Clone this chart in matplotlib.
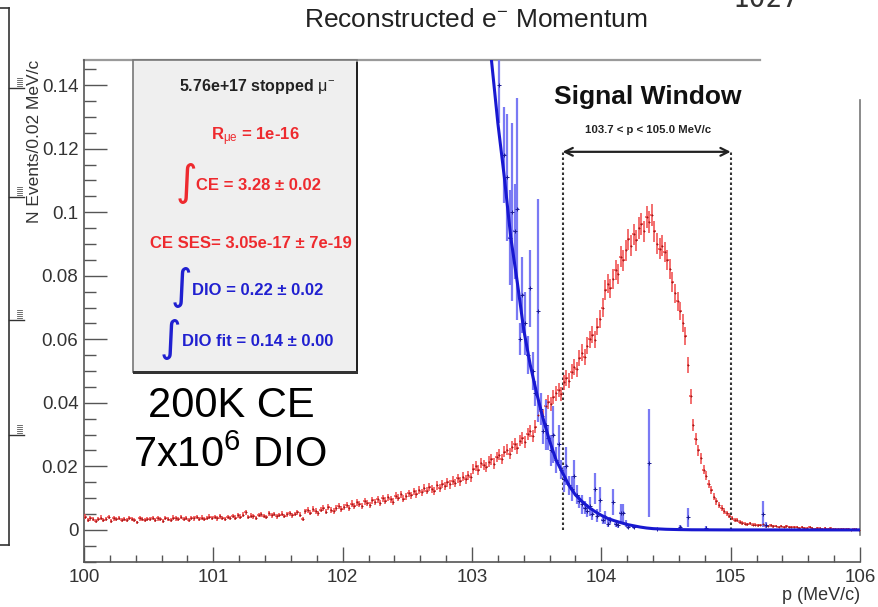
import numpy as np
import matplotlib
matplotlib.use('Agg')
import matplotlib.pyplot as plt
from matplotlib.patches import Rectangle
from matplotlib.ticker import MultipleLocator, FixedLocator

plt.rcParams['font.family'] = ['Liberation Sans', 'DejaVu Sans']
plt.rcParams['mathtext.fontset'] = 'custom'
plt.rcParams['mathtext.rm'] = 'Liberation Sans'
plt.rcParams['mathtext.it'] = 'Liberation Sans'
plt.rcParams['mathtext.bf'] = 'Liberation Sans:bold'

# ---------------- data ----------------
p_min, p_max, bin_width = 100.0, 106.0, 0.02

ce_values = [
    # 100.01 - 100.49
    0.0042, 0.0030, 0.0036, 0.0033, 0.0028, 0.0035, 0.0039, 0.0031, 0.0034, 0.0041,
    0.0029, 0.0036, 0.0033, 0.0038, 0.0030, 0.0034, 0.0032, 0.0037, 0.0035, 0.0031,
    0.0024, 0.0036, 0.0033, 0.0030, 0.0035,
    # 100.51 - 100.99
    0.0034, 0.0038, 0.0031, 0.0036, 0.0033, 0.0029, 0.0037, 0.0035, 0.0032, 0.0039,
    0.0036, 0.0034, 0.0040, 0.0033, 0.0037, 0.0031, 0.0038, 0.0036, 0.0041, 0.0035,
    0.0039, 0.0034, 0.0037, 0.0042, 0.0038,
    # 101.01 - 101.49
    0.0040, 0.0036, 0.0043, 0.0038, 0.0035, 0.0041, 0.0037, 0.0044, 0.0039, 0.0046,
    0.0042, 0.0048, 0.0055, 0.0041, 0.0045, 0.0043, 0.0038, 0.0047, 0.0049, 0.0044,
    0.0040, 0.0052, 0.0046, 0.0050, 0.0043,
    # 101.51 - 101.99
    0.0047, 0.0051, 0.0044, 0.0049, 0.0053, 0.0046, 0.0050, 0.0055, 0.0048, 0.0035,
    0.0058, 0.0062, 0.0054, 0.0066, 0.0059, 0.0052, 0.0064, 0.0069, 0.0057, 0.0071,
    0.0063, 0.0060, 0.0068, 0.0074, 0.0065,
    # 102.01 - 102.49
    0.0072, 0.0079, 0.0068, 0.0083, 0.0076, 0.0087, 0.0081, 0.0074, 0.0090, 0.0085,
    0.0079, 0.0093, 0.0088, 0.0096, 0.0084, 0.0099, 0.0092, 0.0103, 0.0097, 0.0089,
    0.0108, 0.0101, 0.0112, 0.0098, 0.0106,
    # 102.51 - 102.99
    0.0115, 0.0109, 0.0121, 0.0113, 0.0126, 0.0118, 0.0131, 0.0124, 0.0136, 0.0128,
    0.0122, 0.0140, 0.0133, 0.0145, 0.0138, 0.0150, 0.0143, 0.0155, 0.0148, 0.0162,
    0.0153, 0.0168, 0.0159, 0.0172, 0.0165,
    # 103.01 - 103.49
    0.0192, 0.0201, 0.0188, 0.0210, 0.0205, 0.0198, 0.0215, 0.0222, 0.0209, 0.0230,
    0.0237, 0.0224, 0.0246, 0.0252, 0.0240, 0.0262, 0.0270, 0.0257, 0.0281, 0.0290,
    0.0276, 0.0301, 0.0312, 0.0296, 0.0325,
    # 103.51 - 103.99
    0.0362, 0.0375, 0.0358, 0.0390, 0.0402, 0.0395, 0.0418, 0.0430, 0.0440, 0.0428,
    0.0465, 0.0478, 0.0470, 0.0498, 0.0512, 0.0505, 0.0540, 0.0558, 0.0545, 0.0580,
    0.0600, 0.0615, 0.0598, 0.0640, 0.0665,
    # 104.01 - 104.49
    0.0700, 0.0755, 0.0775, 0.0760, 0.0790, 0.0818, 0.0805, 0.0860, 0.0848, 0.0880,
    0.0915, 0.0895, 0.0930, 0.0912, 0.0950, 0.0962, 0.0940, 0.0985, 0.0970, 0.0992,
    0.0940, 0.0900, 0.0885, 0.0895, 0.0875,
    # 104.51 - 104.99
    0.0850, 0.0820, 0.0780, 0.0745, 0.0720, 0.0690, 0.0650, 0.0610, 0.0520, 0.0420,
    0.0330, 0.0285, 0.0250, 0.0225, 0.0190, 0.0170, 0.0145, 0.0125, 0.0105, 0.0090,
    0.0078, 0.0068, 0.0060, 0.0052, 0.0045,
    # 105.01 - 105.49
    0.0038, 0.0032, 0.0030, 0.0025, 0.0022, 0.0020, 0.0018, 0.0021, 0.0016, 0.0017,
    0.0014, 0.0015, 0.0018, 0.0013, 0.0012, 0.0014, 0.0011, 0.0013, 0.0010, 0.0012,
    0.0009, 0.0011, 0.0008, 0.0010, 0.0009,
    # 105.51 - 105.99
    0.0008, 0.0006, 0.0009, 0.0007, 0.0005, 0.0008, 0.0006, 0.0004, 0.0007, 0.0005,
    0.0003, 0.0006, 0.0004, 0.0005, 0.0003, 0.0004, 0.0002, 0.0004, 0.0003, 0.0002,
    0.0003, 0.0001, 0.0002, 0.0002, 0.0001,
]

dio_p = [103.21, 103.25, 103.27, 103.29, 103.31, 103.33, 103.35, 103.37, 103.39, 103.41,
         103.43, 103.45, 103.47, 103.49, 103.51, 103.53, 103.55, 103.57, 103.59, 103.61,
         103.63, 103.65, 103.67, 103.69, 103.71, 103.73, 103.75, 103.77, 103.79, 103.81,
         103.83, 103.85, 103.87, 103.89, 103.91, 103.93, 103.95, 103.97, 103.99, 104.01,
         104.03, 104.05, 104.07, 104.09, 104.11, 104.13, 104.15, 104.17, 104.19, 104.21,
         104.25, 104.37, 104.43, 104.61, 104.67, 104.81, 105.25, 105.27]
dio_values = [0.140, 0.118, 0.111, 0.092, 0.100, 0.094, 0.101, 0.060, 0.074, 0.065,
              0.055, 0.076, 0.050, 0.043, 0.069, 0.038, 0.031, 0.033, 0.029, 0.025,
              0.030, 0.022, 0.027, 0.019, 0.016, 0.020, 0.014, 0.013, 0.017, 0.011,
              0.009, 0.008, 0.007, 0.006, 0.0075, 0.005, 0.013, 0.0045, 0.0095, 0.003,
              0.004, 0.002, 0.003, 0.0088, 0.002, 0.0015, 0.0053, 0.0053, 0.0020, 0.0010,
              0.0008, 0.021, 0.0003, 0.0010, 0.004, 0.0006, 0.005, 0.0015]
dio_errors = [0.012, 0.015, 0.020, 0.015, 0.028, 0.015, 0.035, 0.005, 0.012, 0.010,
              0.006, 0.012, 0.006, 0.004, 0.035, 0.005, 0.004, 0.008, 0.004, 0.005,
              0.009, 0.004, 0.006, 0.003, 0.004, 0.006, 0.003, 0.004, 0.005, 0.003,
              0.002, 0.003, 0.002, 0.002, 0.003, 0.002, 0.005, 0.002, 0.004, 0.001,
              0.002, 0.001, 0.001, 0.004, 0.001, 0.001, 0.003, 0.003, 0.001, 0.0008,
              0.0005, 0.017, 0.0003, 0.0007, 0.003, 0.0005, 0.004, 0.001]

fit_p = [103.15, 103.20, 103.25, 103.30, 103.35, 103.40, 103.45, 103.50, 103.55, 103.60,
         103.65, 103.70, 103.75, 103.80, 103.85, 103.90, 103.95, 104.00, 104.05, 104.10,
         104.15, 104.20, 104.25, 104.30, 104.35, 104.40, 104.50, 104.60, 104.70, 105.00, 106.00]
fit_values = [0.148, 0.128, 0.111, 0.092, 0.078, 0.063, 0.052, 0.043, 0.035, 0.028,
              0.022, 0.018, 0.014, 0.011, 0.0090, 0.0072, 0.0058, 0.0046, 0.0036, 0.0029,
              0.0023, 0.0017, 0.0013, 0.0009, 0.0006, 0.0004, 0.0002, 0.0001, 0.00004, 0.0, 0.0]

window_lo, window_hi = 103.7, 105.0
window_arrow_y = 0.119

x_ticks = [100, 101, 102, 103, 104, 105, 106]
x_tick_labels = ['100', '101', '102', '103', '104', '105', '106']
y_ticks = [0, 0.02, 0.04, 0.06, 0.08, 0.10, 0.12, 0.14]
y_tick_labels = ['0', '0.02', '0.04', '0.06', '0.08', '0.1', '0.12', '0.14']

# ---------------- figure ----------------
W, H = 879, 607
fig = plt.figure(figsize=(W / 100, H / 100), dpi=100)
fig.patch.set_facecolor('white')


def ft(x, y, s, **kw):
    return fig.text(x / W, 1 - y / H, s, **kw)


ax_l, ax_r, ax_t, ax_b = 84, 860, 60, 562
ax = fig.add_axes([ax_l / W, 1 - ax_b / H, (ax_r - ax_l) / W, (ax_b - ax_t) / H])
ax.set_xlim(p_min, p_max)
ax.set_ylim(-0.0101, 0.1479)

ce = np.array(ce_values)
centers = p_min + bin_width * (np.arange(len(ce)) + 0.5)
ce_err = 0.011 * np.sqrt(ce)
ax.errorbar(centers, ce, yerr=ce_err, xerr=bin_width / 2, fmt='none',
            ecolor='#f04848', elinewidth=1.1, zorder=3)
ax.plot(centers, ce, linestyle='none', marker='+', markersize=2.0,
        color='#a01c1c', markeredgewidth=0.7, zorder=4)

ax.errorbar(dio_p, dio_values, yerr=dio_errors, xerr=bin_width / 2, fmt='none',
            ecolor='#7a7af4', elinewidth=1.6, zorder=3)
ax.plot(dio_p, dio_values, linestyle='none', marker='+', markersize=2.5,
        color='#1a1a90', markeredgewidth=0.7, zorder=4)

ax.plot(fit_p, fit_values, color='#1818d0', lw=2.2, zorder=5)

# signal window
ax.plot([window_lo, window_lo], [0, window_arrow_y], linestyle=(0, (1.2, 1.2)),
        color='#333333', lw=1.5, zorder=2)
ax.plot([window_hi, window_hi], [0, window_arrow_y], linestyle=(0, (1.2, 1.2)),
        color='#333333', lw=1.5, zorder=2)
ax.annotate('', xy=(window_lo, window_arrow_y), xytext=(window_hi, window_arrow_y),
            arrowprops=dict(arrowstyle='<->', color='#222222', lw=1.6,
                            shrinkA=0, shrinkB=0, mutation_scale=14))

# axes styling
for s in ['top', 'right']:
    ax.spines[s].set_visible(False)
for s in ['left', 'bottom']:
    ax.spines[s].set_color('#555555')
    ax.spines[s].set_linewidth(1.2)
ax.axhline(0.1479, xmin=0, xmax=(760 - ax_l) / (ax_r - ax_l), color='#9a9a9a',
           lw=1.6, clip_on=False)
ax.axvline(106, ymin=(ax_b - 535) / (ax_b - ax_t), ymax=(ax_b - 100) / (ax_b - ax_t),
           color='#777777', lw=1.2, clip_on=False)

ax.xaxis.set_major_locator(FixedLocator(x_ticks))
ax.set_xticklabels(x_tick_labels)
ax.xaxis.set_minor_locator(MultipleLocator(0.2))
ax.yaxis.set_major_locator(FixedLocator(y_ticks))
ax.set_yticklabels(y_tick_labels)
ax.yaxis.set_minor_locator(MultipleLocator(0.005))
ax.tick_params(which='both', direction='in', colors='#555555', labelcolor='#333333',
               labelsize=13.5)
ax.tick_params(axis='x', which='major', length=10.8, width=1.0, pad=5)
ax.tick_params(axis='x', which='minor', length=5.4, width=1.0)
ax.tick_params(axis='y', which='major', length=16.5, width=1.0, pad=4)
ax.tick_params(axis='y', which='minor', length=8.3, width=1.0)

# stats box
box = Rectangle((133 / W, 1 - 372 / H), (357 - 133) / W, (372 - 60) / H,
                transform=fig.transFigure, facecolor='#efefef', edgecolor='#777777',
                lw=1.2, zorder=6)
fig.patches.append(box)
shadow_r = Rectangle((356 / W, 1 - 372 / H), 2.5 / W, (372 - 62) / H,
                     transform=fig.transFigure, facecolor='#222222', edgecolor='none', zorder=6)
shadow_b = Rectangle((133 / W, 1 - 373.5 / H), (358 - 133) / W, 2.5 / H,
                     transform=fig.transFigure, facecolor='#333333', edgecolor='none', zorder=6)
fig.patches.append(shadow_r)
fig.patches.append(shadow_b)

red = '#ee2a2e'
blue = '#2020d0'
bfs = 12
ft(257, 87, r'5.76e+17 stopped $\mu^{-}$', ha='center', va='center', fontsize=11.5,
   fontweight='bold', color='#222222', zorder=7)
ft(255, 137, r'R$_{\mu e}$ = 1e-16', ha='center', va='center', fontsize=bfs,
   fontweight='bold', color=red, zorder=7)
ft(186, 183, '\u222b', ha='center', va='center', fontsize=30, family='DejaVu Sans',
   color=red, zorder=7)
ft(196, 186, 'CE = 3.28 \u00b1 0.02', ha='left', va='center', fontsize=bfs,
   fontweight='bold', color=red, zorder=7)
ft(251, 243, 'CE SES= 3.05e-17 \u00b1 7e-19', ha='center', va='center', fontsize=bfs,
   fontweight='bold', color=red, zorder=7)
ft(181, 287, '\u222b', ha='center', va='center', fontsize=30, family='DejaVu Sans',
   color=blue, zorder=7)
ft(192, 290, 'DIO = 0.22 \u00b1 0.02', ha='left', va='center', fontsize=bfs,
   fontweight='bold', color=blue, zorder=7)
ft(170, 339, '\u222b', ha='center', va='center', fontsize=30, family='DejaVu Sans',
   color=blue, zorder=7)
ft(182, 342, 'DIO fit = 0.14 \u00b1 0.00', ha='left', va='center', fontsize=bfs,
   fontweight='bold', color=blue, zorder=7)

# annotations
ft(476, 20, r'Reconstructed e$^{-}$ Momentum', ha='center', va='center', fontsize=19,
   color='#222222')
ft(648, 97, 'Signal Window', ha='center', va='center', fontsize=19, fontweight='bold',
   color='#111111')
ft(648, 130, '103.7 < p < 105.0 MeV/c', ha='center', va='center', fontsize=8.2,
   fontweight='bold', color='#222222')
ft(231, 406, '200K CE', ha='center', va='center', fontsize=30, color='black')
ft(230, 456, r'7x10$^{6}$ DIO', ha='center', va='center', fontsize=30, color='black')
ft(35, 60, 'N Events/0.02 MeV/c', ha='center', va='top', rotation=90, fontsize=12.5,
   color='#333333')
ft(860, 595, 'p (MeV/c)', ha='right', va='center', fontsize=13, color='#333333')
ft(733, 7, '1027', ha='left', va='baseline', fontsize=20, family='DejaVu Sans Mono',
   color='#333333')

# left-edge frame fragment
fig.add_artist(plt.Line2D([9 / W, 9 / W], [1 - 8 / H, 1 - 545 / H], color='#333333', lw=1.2))
fig.add_artist(plt.Line2D([0, 9 / W], [1 - 8 / H, 1 - 8 / H], color='#333333', lw=1.2))
fig.add_artist(plt.Line2D([0, 9 / W], [1 - 545 / H, 1 - 545 / H], color='#333333', lw=1.2))
for yy in [88, 197, 320, 435]:
    fig.add_artist(plt.Line2D([9 / W, 24 / W], [1 - yy / H, 1 - yy / H], color='#333333', lw=1.0))
    for k in range(5):
        fig.add_artist(plt.Line2D([17 / W, 22 / W], [1 - (yy - 2 - 2 * k) / H] * 2,
                                  color='#555555', lw=0.6))

fig.savefig('out.png', dpi=100, facecolor='white')
